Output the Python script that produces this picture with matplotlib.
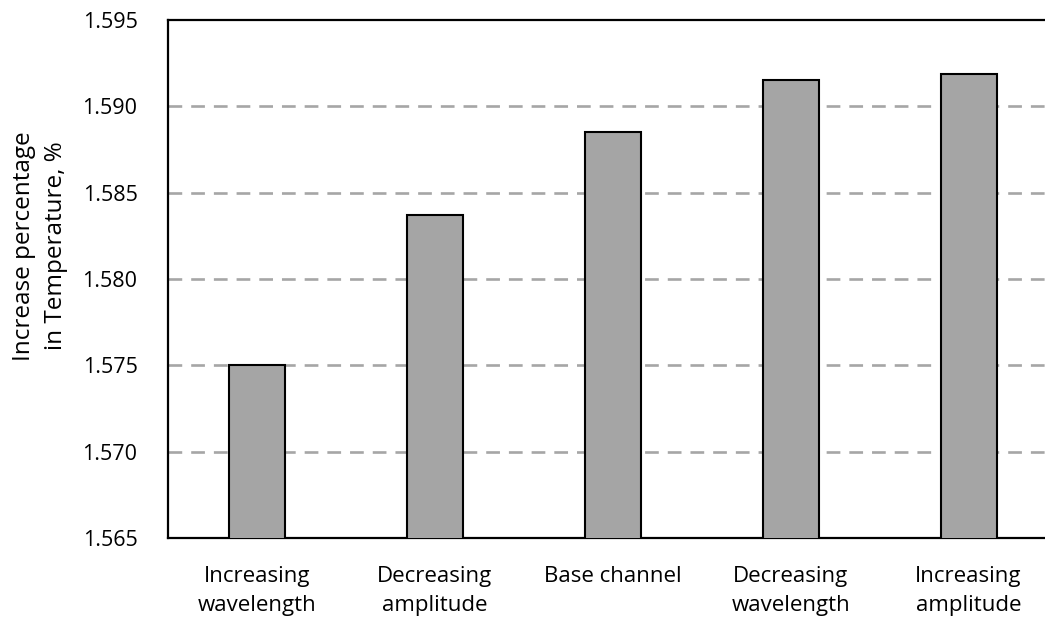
import matplotlib
matplotlib.use("Agg")
import matplotlib.pyplot as plt

categories = ["Increasing\nwavelength", "Decreasing\namplitude", "Base channel",
              "Decreasing\nwavelength", "Increasing\namplitude"]
values = [1.5750, 1.5837, 1.5885, 1.5915, 1.5919]
yticks = [1.565, 1.570, 1.575, 1.580, 1.585, 1.590, 1.595]
ylabel = "Increase percentage\nin Temperature, %"

plt.rcParams['font.family'] = ['Open Sans', 'DejaVu Sans']

W, H = 1045, 621
fig = plt.figure(figsize=(W / 100, H / 100), dpi=100)
left, right, top, bottom = 168, 1045, 20, 538
ax = fig.add_axes([left / W, 1 - bottom / H, (right - left) / W, (bottom - top) / H])

x = list(range(len(categories)))
ax.bar(x, values, width=0.315, bottom=0, color="#a5a5a5", edgecolor="black",
       linewidth=1.5, zorder=3)

ax.set_ylim(1.565, 1.595)
cat_w = 177.9
ax.set_xlim(-0.5, -0.5 + (right - left) / cat_w)
ax.set_yticks(yticks)
ax.set_yticklabels([f"{v:.3f}" for v in yticks], fontsize=15.5)
ax.set_xticks(x)
ax.set_xticklabels(categories, fontsize=16, linespacing=1.5)
ax.tick_params(axis='both', length=0)
ax.tick_params(axis='y', pad=22)
ax.tick_params(axis='x', pad=20)

for v in yticks[1:-1]:
    ax.axhline(v, color="#a6a6a6", linewidth=1.9, linestyle=(0, (5.2, 3.4)), zorder=1)

for s in ["left", "bottom", "top"]:
    ax.spines[s].set_linewidth(1.6)
    ax.spines[s].set_color("black")
ax.spines["right"].set_visible(False)

fig.text(40 / W, 1 - 246 / H, ylabel, rotation=90, ha='center', va='center',
         multialignment='center', fontsize=17.5, linespacing=1.4)

fig.savefig("out.png", dpi=100)
